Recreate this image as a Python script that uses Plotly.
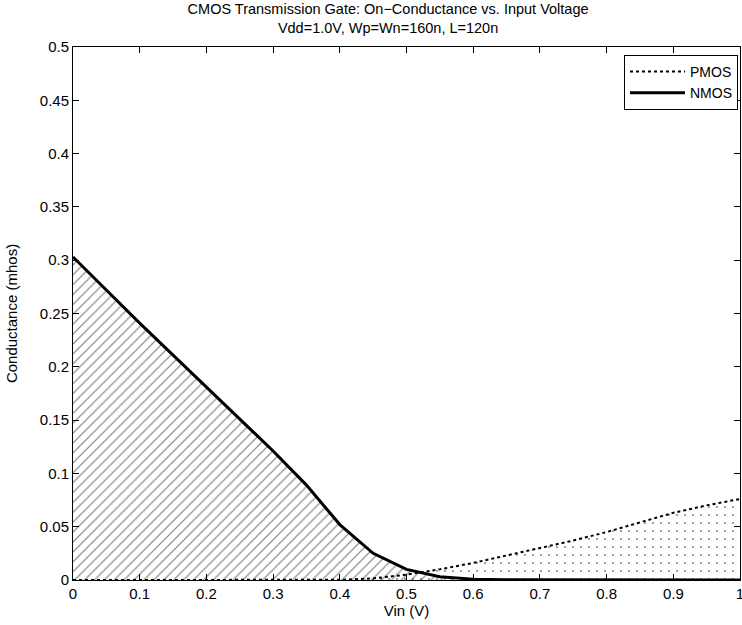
import plotly.graph_objects as go

vin_n = [0.0, 0.05, 0.1, 0.15, 0.2, 0.25, 0.3, 0.35, 0.4, 0.45, 0.5, 0.55, 0.6, 0.65, 0.7, 0.75, 0.8, 0.85, 0.9, 0.95, 1.0]
g_nmos = [0.303, 0.272, 0.241, 0.211, 0.181, 0.151, 0.121, 0.089, 0.052, 0.025, 0.010, 0.003, 0.0008, 0.0003, 0.0002, 0.0001, 0.0001, 0.0, 0.0, 0.0, 0.0]
g_pmos = [0.0, 0.0, 0.0, 0.0, 0.0, 0.0, 0.0, 0.0, 0.0002, 0.0015, 0.005, 0.010, 0.016, 0.023, 0.030, 0.037, 0.045, 0.054, 0.063, 0.070, 0.076]

x_ticks = [0, 0.1, 0.2, 0.3, 0.4, 0.5, 0.6, 0.7, 0.8, 0.9, 1.0]
x_tick_labels = ["0", "0.1", "0.2", "0.3", "0.4", "0.5", "0.6", "0.7", "0.8", "0.9", "1"]
y_ticks = [0, 0.05, 0.1, 0.15, 0.2, 0.25, 0.3, 0.35, 0.4, 0.45, 0.5]
y_tick_labels = ["0", "0.05", "0.1", "0.15", "0.2", "0.25", "0.3", "0.35", "0.4", "0.45", "0.5"]

FONT = "Liberation Sans, Arial, Helvetica, sans-serif"

fig = go.Figure()
# fills
fig.add_trace(go.Scatter(x=vin_n, y=g_nmos, mode="none", fill="tozeroy",
                         fillcolor="rgba(0,0,0,0)",
                         fillpattern=dict(shape="/", fgcolor="black", bgcolor="white", size=7, solidity=0.17),
                         showlegend=False, hoverinfo="skip"))
fig.add_trace(go.Scatter(x=vin_n, y=g_pmos, mode="none", fill="tozeroy",
                         fillcolor="rgba(0,0,0,0)",
                         fillpattern=dict(shape=".", fgcolor="black", bgcolor="rgba(255,255,255,0)", size=8, solidity=0.05),
                         showlegend=False, hoverinfo="skip"))
# lines
fig.add_trace(go.Scatter(x=vin_n, y=g_pmos, mode="lines", name="PMOS",
                         line=dict(color="black", width=2, dash="dot")))
fig.add_trace(go.Scatter(x=vin_n, y=g_nmos, mode="lines", name="NMOS",
                         line=dict(color="black", width=3)))

axis_common = dict(showline=True, linecolor="black", linewidth=1, mirror="ticks",
                   ticks="inside", ticklen=6, tickcolor="black", showgrid=False, zeroline=False,
                   automargin=False, ticklabeloverflow="allow",
                   tickfont=dict(family=FONT, size=15, color="black"))

fig.update_layout(
    width=742, height=625,
    margin=dict(l=73, r=2, t=47, b=45),
    paper_bgcolor="white", plot_bgcolor="white",
    font=dict(family=FONT, color="black"),
    title=dict(text="CMOS Transmission Gate: On\u2212Conductance vs. Input Voltage<br>Vdd=1.0V, Wp=Wn=160n, L=120n",
               x=0.523, xanchor="center", y=0.977, yanchor="top",
               font=dict(size=14.5, color="black")),
    xaxis=dict(range=[0, 1], tickvals=x_ticks, ticktext=x_tick_labels,
               title=dict(text="Vin (V)", font=dict(size=15), standoff=2), **axis_common),
    yaxis=dict(range=[0, 0.5], tickvals=y_ticks, ticktext=y_tick_labels,
               title=dict(text="Conductance (mhos)", font=dict(size=15), standoff=18), **axis_common),
    legend=dict(x=0.997, y=0.985, xanchor="right", yanchor="top",
                bordercolor="black", borderwidth=1, bgcolor="white",
                font=dict(family=FONT, size=14, color="black"), itemwidth=55,
                tracegroupgap=0),
)

fig.write_html("out.html", config={"displayModeBar": False},
               post_script=["document.body.style.margin='0';document.body.style.padding='0';"])
